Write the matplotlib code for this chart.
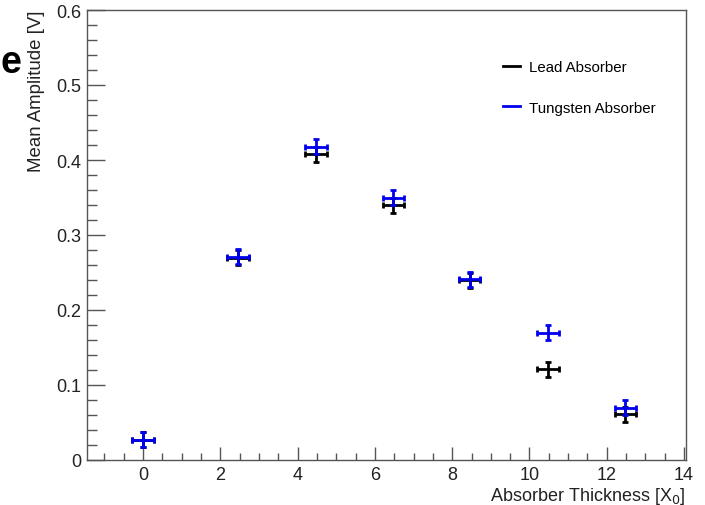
import matplotlib
matplotlib.use("Agg")
import matplotlib.pyplot as plt
from matplotlib.lines import Line2D
from matplotlib.ticker import MultipleLocator

plt.rcParams['font.family'] = ['Liberation Sans', 'DejaVu Sans']

thickness = [0.0, 2.45, 4.47, 6.48, 8.45, 10.48, 12.48]
lead_amp = [0.027, 0.270, 0.408, 0.340, 0.240, 0.121, 0.061]
tungsten_amp = [0.027, 0.271, 0.418, 0.350, 0.241, 0.170, 0.070]
x_err = [0.28] * 7
lead_err = [0.010] * 7
tungsten_err = [0.010] * 7

fig = plt.figure(figsize=(7.05, 5.06), dpi=100)
ax = fig.add_axes([87/705, 1-461/506, (686-87)/705, (461-11)/506])

ax.errorbar(thickness, lead_amp, xerr=x_err, yerr=lead_err, fmt='none',
            ecolor='black', elinewidth=2, capsize=2.2, capthick=2)
ax.errorbar(thickness, tungsten_amp, xerr=x_err, yerr=tungsten_err, fmt='none',
            ecolor='#0000ee', elinewidth=2, capsize=2.2, capthick=2)

ax.set_xlim(-1.45, 14.05)
ax.set_ylim(0, 0.6)
ax.xaxis.set_major_locator(MultipleLocator(2))
ax.xaxis.set_minor_locator(MultipleLocator(0.5))
ax.yaxis.set_major_locator(MultipleLocator(0.1))
ax.yaxis.set_minor_locator(MultipleLocator(0.02))
ax.set_yticks([0, 0.1, 0.2, 0.3, 0.4, 0.5, 0.6])
ax.set_yticklabels(['0', '0.1', '0.2', '0.3', '0.4', '0.5', '0.6'])

ax.tick_params(axis='both', which='both', direction='in', colors='#555555',
               labelcolor='#222222', labelsize=13, width=1)
ax.tick_params(axis='y', which='major', length=13, pad=4)
ax.tick_params(axis='y', which='minor', length=7)
ax.tick_params(axis='x', which='major', length=9.5, pad=4)
ax.tick_params(axis='x', which='minor', length=5)
for s in ax.spines.values():
    s.set_color('#555555')
    s.set_linewidth(1)

ax.set_xlabel('Absorber Thickness [X$_0$]', fontsize=13, color='#222222', loc='right', labelpad=2)
ax.set_ylabel('Mean Amplitude [V]', fontsize=13.4, color='#222222', loc='top', labelpad=8)

handles = [Line2D([], [], color='black', lw=2), Line2D([], [], color='#0000ee', lw=2)]
ax.legend(handles, ['Lead Absorber', 'Tungsten Absorber'], frameon=False, fontsize=10.8,
          handlelength=1.15, handletextpad=0.55, labelspacing=1.75,
          loc='upper left', bbox_to_anchor=(0.672, 0.918))

fig.text(0.0, 1-63/506, 'e', fontsize=27, fontweight='bold', va='center', ha='left')

fig.savefig('out.png', dpi=100)
